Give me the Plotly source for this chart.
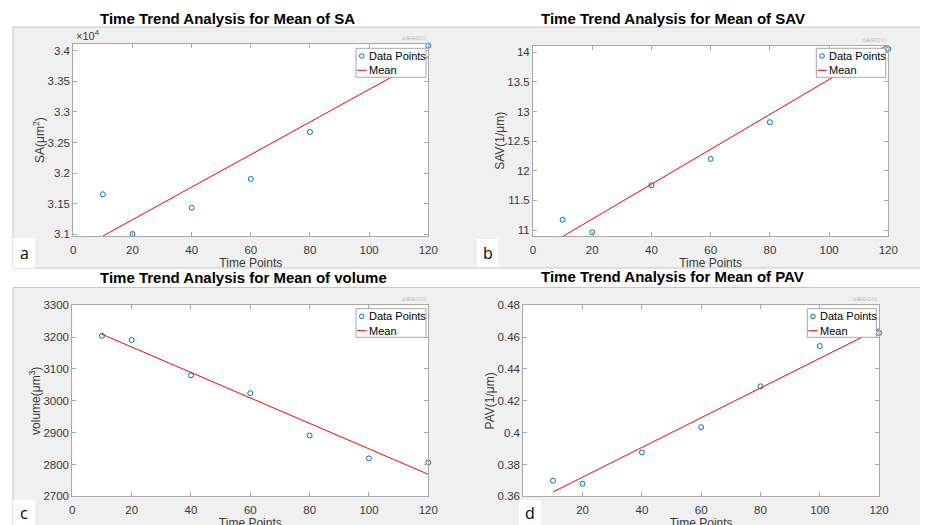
import plotly.graph_objects as go

# ---------------- data ----------------
time_sa = [10, 20, 40, 60, 80, 120]
sa_mean = [31654, 31005, 31435, 31904, 32672, 34082]
sa_fit_t = [10, 120]
sa_fit = [30972, 33900]

time_sav = [10, 20, 40, 60, 80, 120]
sav_mean = [11.174, 10.96, 11.755, 12.20, 12.82, 14.056]
sav_fit_t = [10, 120]
sav_fit = [10.89, 14.13]

time_vol = [10, 20, 40, 60, 80, 100, 120]
volume_mean = [3204, 3191, 3080, 3024, 2891, 2819, 2806]
vol_fit_t = [10, 120]
volume_fit = [3209, 2769]

time_pav = [10, 20, 40, 60, 80, 100, 120]
pav_mean = [0.3698, 0.3679, 0.3876, 0.4034, 0.4291, 0.4544, 0.4626]
pav_fit_t = [10, 120]
pav_fit = [0.3627, 0.4653]

x_ticks = [0, 20, 40, 60, 80, 100, 120]
sa_ticks = [31000, 31500, 32000, 32500, 33000, 33500, 34000]
sa_ticklabels = ["3.1", "3.15", "3.2", "3.25", "3.3", "3.35", "3.4"]
sav_ticks = [11, 11.5, 12, 12.5, 13, 13.5, 14]
sav_ticklabels = ["11", "11.5", "12", "12.5", "13", "13.5", "14"]
vol_ticks = [2700, 2800, 2900, 3000, 3100, 3200, 3300]
vol_ticklabels = ["2700", "2800", "2900", "3000", "3100", "3200", "3300"]
pav_ticks = [0.36, 0.38, 0.40, 0.42, 0.44, 0.46, 0.48]
pav_ticklabels = ["0.36", "0.38", "0.4", "0.42", "0.44", "0.46", "0.48"]

titles = ["Time Trend Analysis for Mean of SA", "Time Trend Analysis for Mean of SAV",
          "Time Trend Analysis for Mean of volume", "Time Trend Analysis for Mean of PAV"]
ylabels = ["SA(μm<sup>2</sup>)", "SAV(1/μm)", "volume(μm<sup>3</sup>)", "PAV(1/μm)"]
panel_tags = ["a", "b", "c", "d"]

# ---------------- layout helpers ----------------
W, H = 928, 525
OFF = 8  # page body margin offset
def fx(p):
    return (p - OFF) / W
def fy(p):
    return 1 - (p - OFF) / H

BLUE = "#0072BD"
RED = "#FF0000"
FONT = "Liberation Sans, Arial, sans-serif"
AXC = "#a8a8a8"
TXC = "#383838"

# axes boxes in pixels: (left, right, top, bottom)
boxes = [(73.3, 428.3, 44.3, 236.0),
         (533.0, 888.3, 45.7, 236.0),
         (72.3, 428.3, 305.3, 496.3),
         (523.3, 879.0, 305.3, 496.3)]
yranges = [[30972, 34105], [10.899, 14.111], [2700, 3300], [0.36, 0.48]]
yticks = [(sa_ticks, sa_ticklabels), (sav_ticks, sav_ticklabels),
          (vol_ticks, vol_ticklabels), (pav_ticks, pav_ticklabels)]
ystand = [0, 0, 0, 0]
title_pos = [(227, 19), (672.5, 19), (243, 277), (672, 276)]
legend_boxes = [(356, 426, 48.3, 77.3), (816.3, 885.7, 48.3, 77.3),
                (356, 426, 308.7, 337.3), (807.3, 876.3, 308.7, 337.3)]
tag_boxes = [(13, 35, 238, 268), (477, 498, 239, 267), (13, 35, 500, 525), (519, 541, 500, 525)]

series = [(time_sa, sa_mean, sa_fit_t, sa_fit),
          (time_sav, sav_mean, sav_fit_t, sav_fit),
          (time_vol, volume_mean, vol_fit_t, volume_fit),
          (time_pav, pav_mean, pav_fit_t, pav_fit)]

fig = go.Figure()
shapes = []
annotations = []

# grey figure backgrounds
shapes.append(dict(type="rect", xref="paper", yref="paper", x0=fx(13), x1=fx(950), y0=fy(268), y1=fy(27),
                   fillcolor="#f0f0f0", line=dict(color="#c8c8c8", width=1), layer="below"))
shapes.append(dict(type="rect", xref="paper", yref="paper", x0=fx(13), x1=fx(950), y0=fy(560), y1=fy(287.5),
                   fillcolor="#f0f0f0", line=dict(color="#c8c8c8", width=1), layer="below"))
# white axes backgrounds
for (l, r, t, b) in boxes:
    shapes.append(dict(type="rect", xref="paper", yref="paper", x0=fx(l), x1=fx(r), y0=fy(b), y1=fy(t),
                       fillcolor="white", line=dict(width=0), layer="below"))

layout_axes = {}
for i in range(4):
    n = "" if i == 0 else str(i + 1)
    l, r, t, b = boxes[i]
    tx, ty, mx, my = series[i]
    fig.add_trace(go.Scatter(x=tx, y=ty, mode="markers", name="Data Points", showlegend=False,
                             marker=dict(symbol="circle-open", size=5, color=BLUE, line=dict(width=1, color=BLUE)),
                             cliponaxis=False, xaxis="x" + n, yaxis="y" + n))
    fig.add_trace(go.Scatter(x=mx, y=my, mode="lines", name="Mean", showlegend=False,
                             line=dict(color=RED, width=1), xaxis="x" + n, yaxis="y" + n))
    common = dict(showline=True, linecolor=AXC, linewidth=1, mirror="ticks", ticks="inside",
                  ticklen=4, tickcolor=AXC, showgrid=False, zeroline=False, automargin=False,
                  tickfont=dict(family=FONT, size=11.5, color=TXC))
    layout_axes["xaxis" + n] = dict(domain=[fx(l), fx(r)], range=[0, 120], tickvals=x_ticks,
                                    anchor="y" + n, ticklabelstandoff=3,
                                    title=dict(text="Time Points", font=dict(family=FONT, size=12, color=TXC), standoff=2),
                                    **common)
    tv, tt = yticks[i]
    layout_axes["yaxis" + n] = dict(domain=[fy(b), fy(t)], range=yranges[i], tickvals=tv, ticktext=tt,
                                    anchor="x" + n,
                                    title=dict(text=ylabels[i], font=dict(family=FONT, size=12, color=TXC), standoff=ystand[i]),
                                    **common)
    # subplot title
    annotations.append(dict(text="<b>" + titles[i] + "</b>", x=fx(title_pos[i][0]), y=fy(title_pos[i][1]),
                            xref="paper", yref="paper", showarrow=False, xanchor="center", yanchor="middle",
                            font=dict(family=FONT, size=15, color="black")))
    # axes toolbar hint (faint)
    annotations.append(dict(text="⌂⊕⊖⊙⊡", x=fx(r), y=fy(t - 1), xref="paper", yref="paper", showarrow=False,
                            xanchor="right", yanchor="bottom", font=dict(family="DejaVu Sans", size=6, color="#b8b8b8")))
    # legend (MATLAB-style compact box)
    ll, lr, lt, lb = legend_boxes[i]
    shapes.append(dict(type="rect", xref="paper", yref="paper", x0=fx(ll), x1=fx(lr), y0=fy(lb), y1=fy(lt),
                       fillcolor="white", line=dict(color="#a8a8a8", width=1)))
    r1 = lt + 7.7
    r2 = lt + 22
    shapes.append(dict(type="circle", xref="paper", yref="paper", x0=fx(ll + 3.5), x1=fx(ll + 8),
                       y0=fy(r1 + 2.3), y1=fy(r1 - 2.3), line=dict(color=BLUE, width=1)))
    shapes.append(dict(type="line", xref="paper", yref="paper", x0=fx(ll + 1), x1=fx(ll + 10.5),
                       y0=fy(r2), y1=fy(r2), line=dict(color=RED, width=1)))
    annotations.append(dict(text="Data Points", x=fx(ll + 10.5), y=fy(r1), xref="paper", yref="paper",
                            showarrow=False, xanchor="left", yanchor="middle",
                            font=dict(family=FONT, size=11, color="black")))
    annotations.append(dict(text="Mean", x=fx(ll + 10.5), y=fy(r2), xref="paper", yref="paper",
                            showarrow=False, xanchor="left", yanchor="middle",
                            font=dict(family=FONT, size=11, color="black")))
    # panel tag
    bl, br, bt, bb = tag_boxes[i]
    shapes.append(dict(type="rect", xref="paper", yref="paper", x0=fx(bl), x1=fx(br), y0=fy(bb), y1=fy(bt),
                       fillcolor="white", line=dict(width=0)))
    annotations.append(dict(text=panel_tags[i], x=fx((bl + br) / 2), y=fy((bt + bb) / 2), xref="paper", yref="paper",
                            showarrow=False, xanchor="center", yanchor="middle",
                            font=dict(family="Open Sans, sans-serif", size=16, color="black")))

# exponent label for SA axis
annotations.append(dict(text="×10<sup>4</sup>", x=fx(73.5), y=fy(44), xref="paper", yref="paper",
                        showarrow=False, xanchor="left", yanchor="bottom",
                        font=dict(family=FONT, size=11, color=TXC)))

fig.update_layout(template="none", width=W, height=H, margin=dict(l=0, r=0, t=0, b=0),
                  paper_bgcolor="white", plot_bgcolor="white", showlegend=False,
                  shapes=shapes, annotations=annotations, **layout_axes)

fig.write_html("out.html")
